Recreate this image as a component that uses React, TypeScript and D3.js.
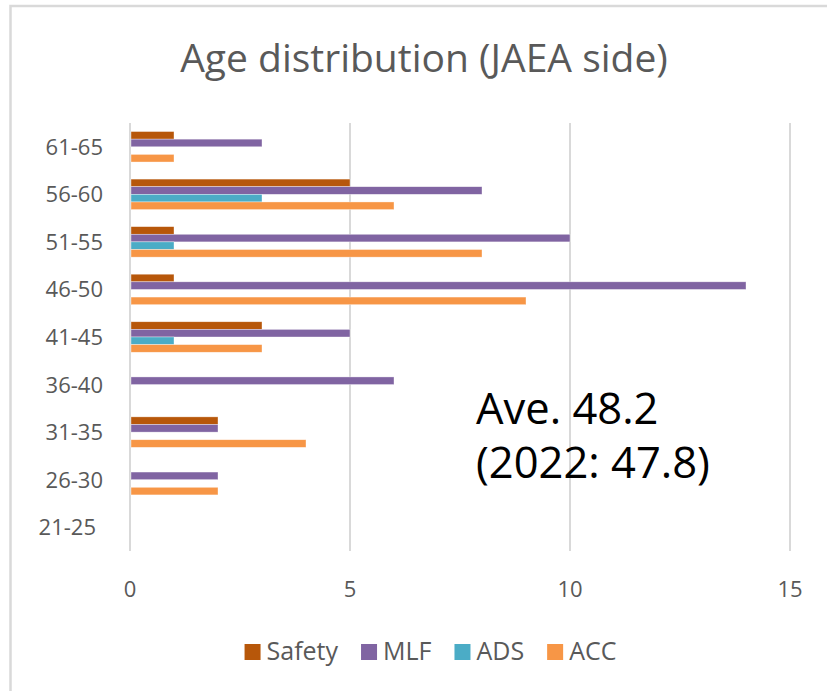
import React, { useEffect, useRef } from "react";
import * as d3 from "d3";

const categories = ["61-65", "56-60", "51-55", "46-50", "41-45", "36-40", "31-35", "26-30", "21-25"];
const seriesNames = ["Safety", "MLF", "ADS", "ACC"];
const safety = [1, 5, 1, 1, 3, 0, 2, 0, 0];
const mlf = [3, 8, 10, 14, 5, 6, 2, 2, 0];
const ads = [0, 3, 1, 0, 1, 0, 0, 0, 0];
const acc = [1, 6, 8, 9, 3, 0, 4, 2, 0];
const seriesValues = [safety, mlf, ads, acc];
const colors = ["#b7570a", "#8064a2", "#4bacc6", "#f79646"];
const xTicks = [0, 5, 10, 15];
const titleText = "Age distribution (JAEA side)";
const noteLines = ["Ave. 48.2", "(2022: 47.8)"];

const W = 827;
const H = 691;
const FONT = "'Open Sans', sans-serif";

export default function App() {
  const ref = useRef<SVGSVGElement | null>(null);

  useEffect(() => {
    const svg = d3.select(ref.current);
    svg.selectAll("*").remove();

    svg.append("rect").attr("width", W).attr("height", H).attr("fill", "#ffffff");
    // outer border (top & left visible)
    svg.append("rect")
      .attr("x", 10.5).attr("y", 6)
      .attr("width", W + 20).attr("height", H + 20)
      .attr("fill", "none").attr("stroke", "#d9d9d9").attr("stroke-width", 2.5);

    const x = d3.scaleLinear().domain([0, 15]).range([130, 790]);
    const y = d3.scaleBand<string>().domain(categories).range([123, 551]).paddingInner(0).paddingOuter(0);
    const inner = d3.scaleBand<string>().domain(seriesNames).range([0, y.bandwidth()]).paddingInner(0).paddingOuter(1.12);

    // title
    svg.append("text")
      .attr("x", 424).attr("y", 72)
      .attr("text-anchor", "middle")
      .attr("font-family", FONT).attr("font-size", 39)
      .attr("fill", "#595959")
      .text(titleText);

    // gridlines
    svg.append("g").selectAll("line").data(xTicks).join("line")
      .attr("x1", d => x(d)).attr("x2", d => x(d))
      .attr("y1", y.range()[0]).attr("y2", y.range()[1])
      .attr("stroke", "#d9d9d9").attr("stroke-width", 2);

    // bars
    const groups = svg.append("g").selectAll("g").data(categories).join("g")
      .attr("transform", c => `translate(0,${y(c)})`);
    groups.selectAll("rect")
      .data((c, i) => seriesNames.map((s, k) => ({ s, k, v: seriesValues[k][i] })))
      .join("rect")
      .attr("x", x(0) + 1)
      .attr("y", d => inner(d.s)!)
      .attr("width", d => Math.max(0, x(d.v) - x(0) - 1))
      .attr("height", inner.bandwidth())
      .attr("fill", d => colors[d.k])
      .attr("stroke", "#ffffff").attr("stroke-opacity", 0.6).attr("stroke-width", 0.6)
      .attr("display", d => (d.v > 0 ? null : "none"));

    // category labels
    svg.append("g").selectAll("text").data(categories).join("text")
      .attr("x", (c, i) => (i === categories.length - 1 ? 96 : 103))
      .attr("y", c => y(c)! + y.bandwidth() / 2 + 8)
      .attr("text-anchor", "end")
      .attr("font-family", FONT).attr("font-size", 22)
      .attr("fill", "#595959")
      .text(c => c);

    // x tick labels
    svg.append("g").selectAll("text").data(xTicks).join("text")
      .attr("x", d => x(d)).attr("y", 597)
      .attr("text-anchor", "middle")
      .attr("font-family", FONT).attr("font-size", 22)
      .attr("fill", "#595959")
      .text(d => String(d));

    // annotation
    svg.append("g").selectAll("text").data(noteLines).join("text")
      .attr("x", 476).attr("y", (d, i) => 424 + i * 54)
      .attr("font-family", FONT).attr("font-size", 43.5)
      .attr("fill", "#000000")
      .text(d => d);

    // legend
    const legend = svg.append("g");
    const items = legend.selectAll("g").data(seriesNames).join("g");
    items.append("rect")
      .attr("width", 16).attr("height", 16).attr("y", 644)
      .attr("fill", (d, i) => colors[i]);
    items.append("text")
      .attr("x", 22).attr("y", 660)
      .attr("font-family", FONT).attr("font-size", 25)
      .attr("fill", "#595959")
      .text(d => d);
    const widths: number[] = [];
    items.each(function () {
      const t = d3.select(this).select("text").node() as SVGTextElement;
      widths.push(22 + t.getComputedTextLength());
    });
    const gap = 23;
    const total = d3.sum(widths) + gap * (widths.length - 1);
    let cx = 430.5 - total / 2;
    items.attr("transform", (d, i) => {
      const tx = cx;
      cx += widths[i] + gap;
      return `translate(${tx},0)`;
    });
  }, []);

  return (
    <svg
      ref={ref}
      width={W}
      height={H}
      style={{ position: "absolute", left: 0, top: 0, display: "block" }}
    />
  );
}
